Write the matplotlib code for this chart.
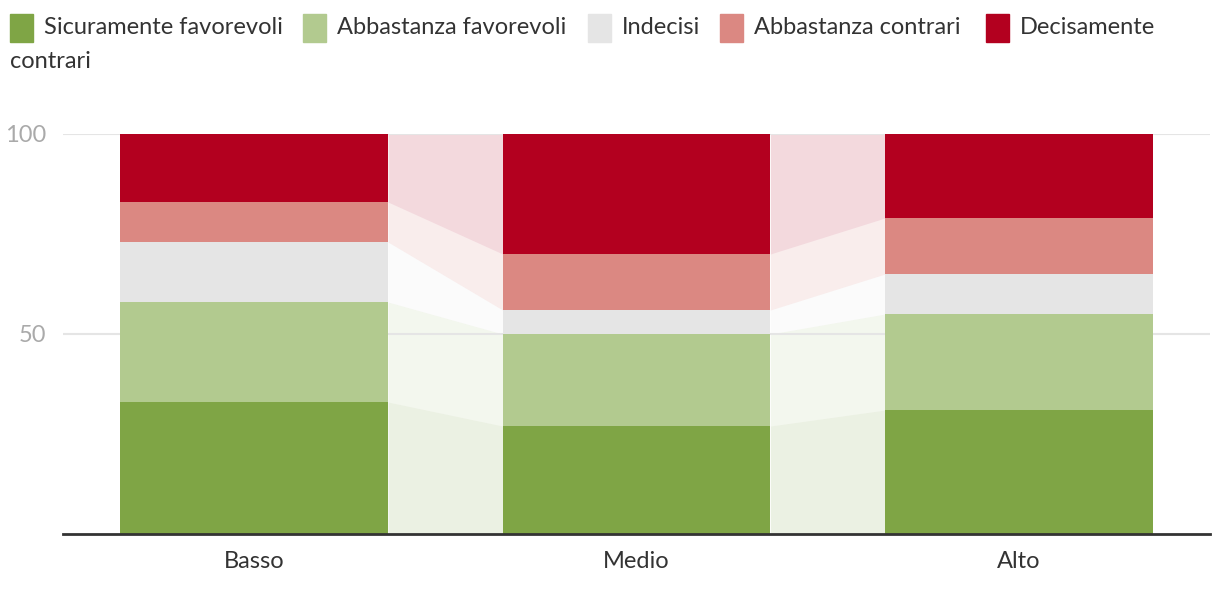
import numpy as np
import matplotlib
matplotlib.use('Agg')
import matplotlib.pyplot as plt
from matplotlib.patches import Rectangle

categories = ['Basso', 'Medio', 'Alto']
series = ['Sicuramente favorevoli', 'Abbastanza favorevoli', 'Indecisi',
          'Abbastanza contrari', 'Decisamente contrari']
sicuramente = [33, 27, 31]
abbastanza_fav = [25, 23, 24]
indecisi = [15, 6, 10]
abbastanza_con = [10, 14, 14]
decisamente = [17, 30, 21]
colors = ['#7fa545', '#b2ca8f', '#e5e5e5', '#db8882', '#b3001f']

plt.rcParams['font.family'] = ['Lato', 'DejaVu Sans']

fig = plt.figure(figsize=(12.2, 5.92), dpi=100)
ax = fig.add_axes([63/1220, 58/592, (1210-63)/1220, 400/592])

values = np.array([sicuramente, abbastanza_fav, indecisi, abbastanza_con, decisamente])
x = np.arange(len(categories))
width = 0.7
bottoms = np.vstack([np.zeros(len(categories)), np.cumsum(values, axis=0)[:-1]])
tops = bottoms + values

for k in range(len(series)):
    ax.bar(x, values[k], width, bottom=bottoms[k], color=colors[k], zorder=3, linewidth=0)
    for i in range(len(categories) - 1):
        xs = [x[i] + width/2, x[i+1] - width/2]
        ax.fill_between(xs, [bottoms[k][i], bottoms[k][i+1]], [tops[k][i], tops[k][i+1]],
                        color=colors[k], alpha=0.15, linewidth=0, zorder=1)

ax.set_xlim(-0.5, 2.5)
ax.set_ylim(0, 100)
ax.set_yticks([50, 100])
ax.set_xticks(x)
ax.set_xticklabels(categories)
ax.grid(axis='y', color='#e5e5e5', linewidth=1.5, zorder=2)
for s in ['top', 'right', 'left']:
    ax.spines[s].set_visible(False)
ax.spines['bottom'].set_color('#333333')
ax.spines['bottom'].set_linewidth(2)
ax.spines['bottom'].set_zorder(4)
ax.tick_params(axis='y', length=0, labelsize=17, labelcolor='#aaaaaa', pad=12)
ax.tick_params(axis='x', length=0, labelsize=17, labelcolor='#333333', pad=12)

# legend drawn by hand so it wraps like the original
sq_x = [10, 303, 588, 720, 986]
labels = series[:4] + ['Decisamente']
for px, c, lab in zip(sq_x, colors, labels):
    fig.patches.append(Rectangle((px/1220, 1 - 42/592), 23/1220, 28/592,
                                 transform=fig.transFigure, color=c, figure=fig))
    fig.text((px + 34)/1220, 1 - 27/592, lab, fontsize=17, color='#333333', va='center')
fig.text(10/1220, 1 - 61/592, 'contrari', fontsize=17, color='#333333', va='center')

fig.savefig('out.png', dpi=100)
